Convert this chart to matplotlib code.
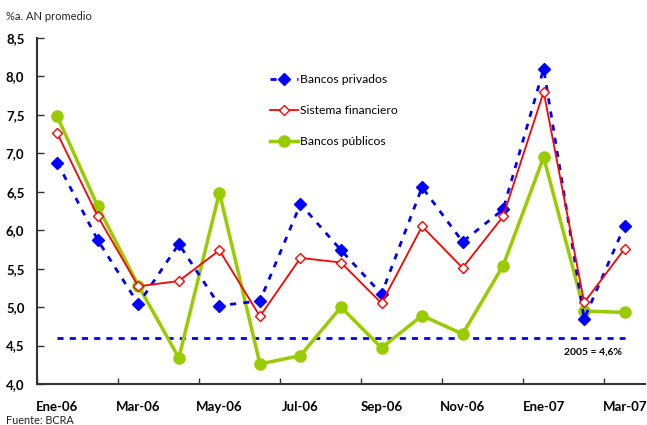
import numpy as np
import matplotlib.pyplot as plt
from matplotlib.ticker import FixedLocator, FuncFormatter

plt.rcParams['font.family'] = ['Lato', 'DejaVu Sans']

# months (one point per month)
months = ['Ene-06', 'Feb-06', 'Mar-06', 'Abr-06', 'May-06', 'Jun-06', 'Jul-06',
          'Ago-06', 'Sep-06', 'Oct-06', 'Nov-06', 'Dic-06', 'Ene-07', 'Feb-07', 'Mar-07']
tick_labels = ['Ene-06', 'Mar-06', 'May-06', 'Jul-06', 'Sep-06', 'Nov-06', 'Ene-07', 'Mar-07']

privados = [6.88, 5.87, 5.04, 5.82, 5.02, 5.08, 6.34, 5.74, 5.17, 6.56, 5.85, 6.27, 8.10, 4.85, 6.06]
sistema = [7.26, 6.18, 5.27, 5.34, 5.74, 4.88, 5.64, 5.58, 5.05, 6.05, 5.51, 6.18, 7.80, 5.06, 5.76]
publicos = [7.48, 6.31, 5.28, 4.34, 6.49, 4.26, 4.37, 5.00, 4.47, 4.89, 4.65, 5.54, 6.95, 4.95, 4.93]
ref_2005 = 4.6

x = np.arange(len(months))

fig = plt.figure(figsize=(6.47, 4.25), dpi=100)
ax = fig.add_axes([37/647, 1-384/425, 608/647, 346/425])

# reference line 2005
ax.plot([x[0], x[-1]], [ref_2005, ref_2005], color='#0000ff', lw=2,
        dashes=(2.2, 2.2), zorder=1)

ax.plot(x, privados, color='#0000ff', lw=2, dashes=(2.2, 2.6),
        marker='D', markersize=6, markerfacecolor='#0000ff',
        markeredgecolor='#0000ff', label='Bancos privados', zorder=3)
ax.plot(x, sistema, color='#ff0000', lw=1.3, marker='D', markersize=5,
        markerfacecolor='white', markeredgecolor='#ff0000', markeredgewidth=1,
        label='Sistema financiero', zorder=4)
ax.plot(x, publicos, color='#99cc00', lw=2.5, marker='o', markersize=8,
        markerfacecolor='#99cc00', markeredgecolor='#99cc00',
        label='Bancos públicos', zorder=2)

ax.set_xlim(-0.5, len(months) - 0.5)
ax.set_ylim(4.0, 8.5)

# labels on every other month, small ticks on the month boundaries
ax.xaxis.set_major_locator(FixedLocator(x[::2]))
ax.set_xticklabels(tick_labels)
ax.xaxis.set_minor_locator(FixedLocator(np.arange(-0.5, len(months), 2)))
ax.tick_params(axis='x', which='major', length=0, pad=12, labelsize=9.5)
ax.tick_params(axis='x', which='minor', direction='in', length=4, width=1, color='#333333')
for lbl in ax.get_xticklabels():
    lbl.set_fontweight('bold')

ax.set_yticks(np.arange(4.0, 8.51, 0.5))
ax.yaxis.set_major_formatter(FuncFormatter(lambda v, p: f'{v:.1f}'.replace('.', ',')))
ax.tick_params(axis='y', direction='in', length=5, width=1, color='#333333',
               pad=9, labelsize=9.5)
for lbl in ax.get_yticklabels():
    lbl.set_fontweight('bold')

for side in ['top', 'right']:
    ax.spines[side].set_visible(False)
for side in ['left', 'bottom']:
    ax.spines[side].set_color('#333333')
    ax.spines[side].set_linewidth(1.5)

ax.legend(loc='upper left', bbox_to_anchor=(222/608, 1-25/346), frameon=False,
          fontsize=8.7, handlelength=2.3, handletextpad=0.2, labelspacing=1.65)

fig.text(622/647, 1-352/425, '2005 = 4,6%', fontsize=7.5, fontweight='bold',
         ha='right', va='center')
fig.text(6/647, 1-17/425, '%a. AN promedio', fontsize=8, color='#222222', va='center')
fig.text(6/647, 1-420/425, 'Fuente: BCRA', fontsize=7.8, color='#222222', va='center')

fig.savefig('out.png', dpi=100)
